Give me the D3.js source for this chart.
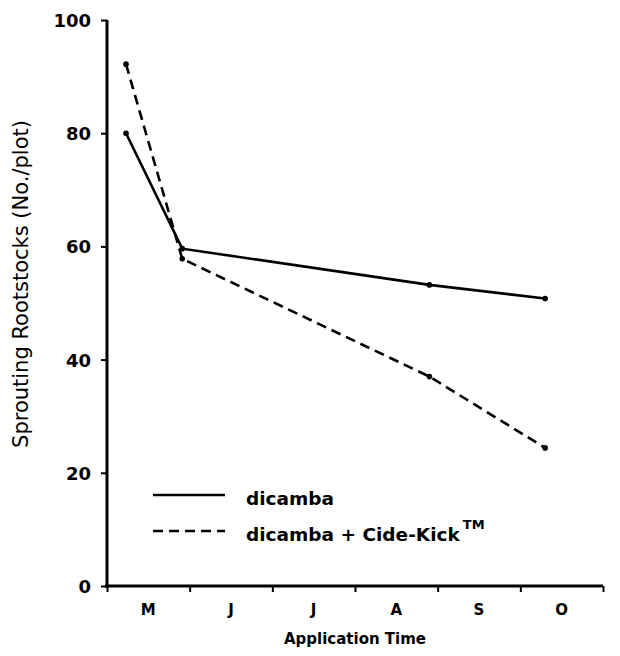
<!DOCTYPE html>
<meta charset="utf-8">
<style>
body { margin: 0; background: #fff; }
svg text { font-family: "DejaVu Sans", sans-serif; font-weight: bold; fill: #000; }
</style>
<svg width="620" height="656"></svg>
<script src="https://d3js.org/d3.v7.min.js"></script>
<script>

// month bands along the x axis
var months = ["M", "J", "J", "A", "S", "O"];
var yTicks = [0, 20, 40, 60, 80, 100];

// application time in months from start of May
var appTime = [0.23, 0.91, 3.9, 5.3];
var dicamba = [80, 59.6, 53.2, 50.8];
var dicambaCide = [92.2, 57.8, 37, 24.4];

var svg = d3.select("svg"),
    margin = {top: 20, right: 17, bottom: 70, left: 107},
    width = +svg.attr("width") - margin.left - margin.right,
    height = +svg.attr("height") - margin.top - margin.bottom;

var x = d3.scaleLinear().domain([0, 6]).range([0, width]);
var y = d3.scaleLinear().domain([0, 100]).range([height, 0]);

var g = svg.append("g")
    .attr("transform", "translate(" + margin.left + "," + margin.top + ")");

// y axis
var yAxis = g.append("g")
    .call(d3.axisLeft(y).tickValues(yTicks).tickSize(6).tickPadding(10));
yAxis.select(".domain").attr("stroke-width", 3).attr("d", "M0," + (height + 2) + "V0");
yAxis.selectAll(".tick line").attr("stroke-width", 2);
yAxis.selectAll("text").style("font-size", "18px").attr("dy", "0.36em");

// x axis: ticks at month boundaries, labels centred in each month
var xAxis = g.append("g")
    .attr("transform", "translate(0," + height + ")")
    .call(d3.axisBottom(x).tickValues(d3.range(0, 7)).tickSize(6).tickFormat(""));
xAxis.select(".domain").attr("stroke-width", 3).attr("d", "M-2,0H" + width);
xAxis.selectAll(".tick line").attr("stroke-width", 2);

g.append("g").selectAll("text")
  .data(months)
  .enter().append("text")
    .attr("x", function(d, i) { return x(i + 0.5); })
    .attr("y", height + 29)
    .attr("text-anchor", "middle")
    .style("font-size", "15px")
    .text(function(d) { return d; });

// axis titles
svg.append("text")
    .attr("x", margin.left + x(3))
    .attr("y", 644)
    .attr("text-anchor", "middle")
    .style("font-size", "15px")
    .text("Application Time");

svg.append("text")
    .attr("transform", "translate(28,284) rotate(-90)")
    .attr("text-anchor", "middle")
    .style("font-size", "21px")
    .style("font-weight", "normal")
    .text("Sprouting Rootstocks (No./plot)");

// series
var line = d3.line()
    .x(function(d, i) { return x(appTime[i]); })
    .y(function(d) { return y(d); });

var series = [
  {values: dicamba, dash: null},
  {values: dicambaCide, dash: "10,6"}
];

series.forEach(function(s) {
  g.append("path")
      .datum(s.values)
      .attr("fill", "none")
      .attr("stroke", "#000")
      .attr("stroke-width", 2.6)
      .attr("stroke-dasharray", s.dash)
      .attr("d", line);
  g.selectAll(null)
    .data(s.values)
    .enter().append("circle")
      .attr("cx", function(d, i) { return x(appTime[i]); })
      .attr("cy", function(d) { return y(d); })
      .attr("r", 2.8)
      .attr("fill", "#000");
});

// legend
var legend = svg.append("g").attr("transform", "translate(153,495)");
legend.append("line").attr("x1", 0).attr("x2", 72).attr("y1", 0).attr("y2", 0)
    .attr("stroke", "#000").attr("stroke-width", 2.6);
legend.append("text").attr("x", 93).attr("y", 10).style("font-size", "18.5px").text("dicamba");
legend.append("line").attr("x1", 0).attr("x2", 72).attr("y1", 36).attr("y2", 36)
    .attr("stroke", "#000").attr("stroke-width", 2.6).attr("stroke-dasharray", "10,6");
var t2 = legend.append("text").attr("x", 93).attr("y", 46).style("font-size", "18.5px");
t2.append("tspan").text("dicamba + Cide-Kick");
t2.append("tspan").attr("dx", 3).attr("dy", -12).style("font-size", "13px").text("TM");

</script>
